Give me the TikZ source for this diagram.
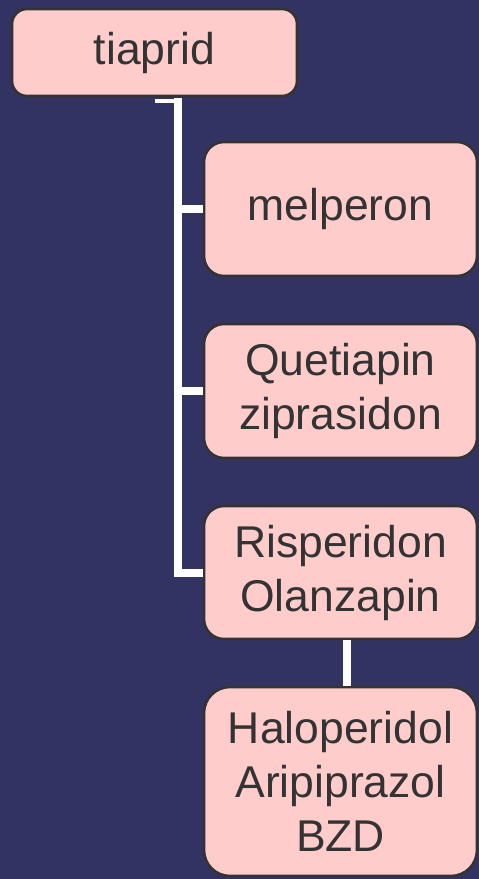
\documentclass[tikz,border=0pt]{standalone}
\usepackage{fontspec}
\setmainfont{Liberation Sans}
\definecolor{bgnavy}{RGB}{51,51,99}
\definecolor{boxpink}{RGB}{255,204,204}
\definecolor{boxline}{RGB}{51,51,51}
\begin{document}
\begin{tikzpicture}[x=1pt,y=-1pt,
  drug/.style={draw=boxline, line width=2.6pt, fill=boxpink, text=boxline,
    align=center, inner sep=0pt, font=\fontsize{44.5}{54}\selectfont},
  conn/.style={draw=white, line width=8pt},
  thinconn/.style={draw=white, line width=4pt}]
\fill[bgnavy] (0,0) rectangle (479,879);
\useasboundingbox (0,0) rectangle (479,879);
\node[drug, rounded corners=15pt, minimum width=285pt, minimum height=87pt] (tiaprid) at (154.5,52.5) {tiaprid};
\node[drug, rounded corners=20pt, minimum width=273pt, minimum height=134pt] (melp) at (340.5,209) {melperon};
\node[drug, rounded corners=20pt, minimum width=273pt, minimum height=134pt] (quet) at (340.5,391) {Quetiapin\\ziprasidon};
\node[drug, rounded corners=20pt, minimum width=273pt, minimum height=133pt] (risp) at (340.5,572.5) {Risperidon\\Olanzapin};
\node[drug, rounded corners=26pt, minimum width=273pt, minimum height=189pt] (halo) at (340.5,781.5) {Haloperidol\\Aripiprazol\\BZD};
\coordinate (bx) at (178,98);
\coordinate (ts) at ([yshift=-4pt]tiaprid.south);
\draw[thinconn] (ts) -- (ts -| 182,0);
\draw[conn] (bx) |- (risp.west);
\draw[conn] (melp.west) -- (melp.west -| bx);
\draw[conn] (quet.west) -- (quet.west -| bx);
\draw[conn] ([xshift=6pt]risp.south) -- ([xshift=6pt]halo.north);
\end{tikzpicture}
\end{document}
